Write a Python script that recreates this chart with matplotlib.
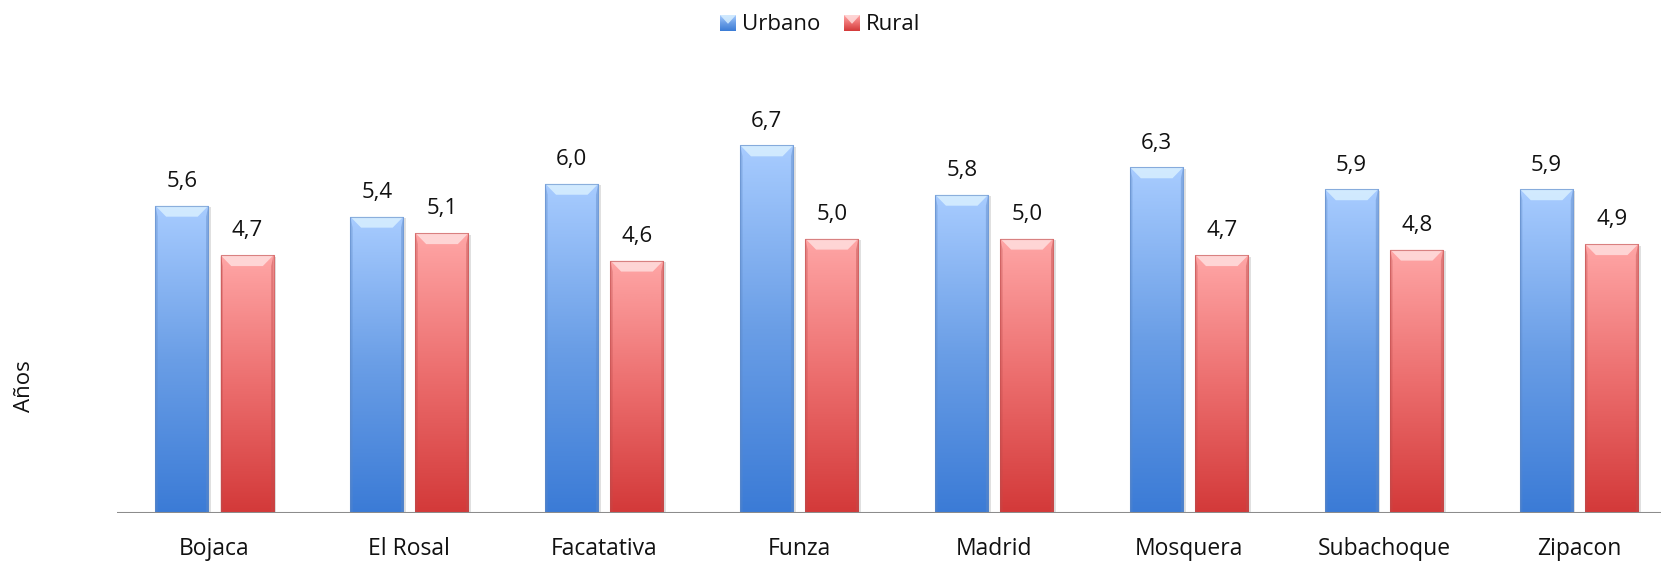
import numpy as np
import matplotlib
matplotlib.use("Agg")
import matplotlib.pyplot as plt
from matplotlib.colors import LinearSegmentedColormap
from matplotlib.patches import Polygon, Rectangle

plt.rcParams['font.family'] = ['Open Sans', 'DejaVu Sans']

categories = ["Bojaca", "El Rosal", "Facatativa", "Funza", "Madrid", "Mosquera", "Subachoque", "Zipacon"]
urbano = [5.6, 5.4, 6.0, 6.7, 5.8, 6.3, 5.9, 5.9]
rural = [4.7, 5.1, 4.6, 5.0, 5.0, 4.7, 4.8, 4.9]
series_names = ["Urbano", "Rural"]

W, H, DPI = 1661, 561, 100
fig = plt.figure(figsize=(W / DPI, H / DPI), dpi=DPI)
ax = fig.add_axes([117 / W, 48 / H, 1 - 117 / W, 439 / H])
ax.set_xlim(-0.5, 7.42)
ax.set_ylim(0, 8)

blue_cmap = LinearSegmentedColormap.from_list("b", ["#3b7bd6", "#6a9ee6", "#a8ccff"])
red_cmap = LinearSegmentedColormap.from_list("r", ["#d33939", "#ec6e6e", "#ffa6a6"])
blue_bevel = "#dcf2ff"
red_bevel = "#ffe2e2"
blue_edge = "#5d88c6"
red_edge = "#c04c4c"

bw = 0.272
off = 0.167
bev_x = 0.055
bev_y = 0.2
x = np.arange(len(categories))

grad = np.linspace(0, 1, 256).reshape(-1, 1)


def draw_bar(xc, h, cmap, bevel, edge):
    left = xc - bw / 2
    ax.add_patch(Rectangle((left + 0.012, 0), bw, h - 0.03, facecolor="#000000",
                           alpha=0.12, edgecolor="none", zorder=1))
    rect = Rectangle((left, 0), bw, h, facecolor="none", edgecolor="none", zorder=2)
    ax.add_patch(rect)
    im = ax.imshow(grad, cmap=cmap, aspect="auto", origin="lower",
                   extent=(left, left + bw, 0, h), zorder=2, interpolation="bilinear")
    im.set_clip_path(rect)
    ax.add_patch(Polygon([(left, 0), (left + 0.012, 0), (left + 0.012, h - bev_y), (left, h)],
                         closed=True, facecolor=edge, alpha=0.35, edgecolor="none", zorder=3))
    ax.add_patch(Polygon([(left + bw, 0), (left + bw - 0.012, 0), (left + bw - 0.012, h - bev_y), (left + bw, h)],
                         closed=True, facecolor=edge, alpha=0.45, edgecolor="none", zorder=3))
    ax.add_patch(Polygon([(left, h), (left + bw, h), (left + bw - bev_x, h - bev_y), (left + bev_x, h - bev_y)],
                         closed=True, facecolor=bevel, alpha=0.8, edgecolor="none", zorder=3))
    ax.add_patch(Rectangle((left, 0), bw, h, facecolor="none", edgecolor=edge,
                           lw=0.8, alpha=0.6, zorder=4))


for i in range(len(categories)):
    draw_bar(x[i] - off, urbano[i], blue_cmap, blue_bevel, blue_edge)
    draw_bar(x[i] + off, rural[i], red_cmap, red_bevel, red_edge)
    ax.text(x[i] - off, urbano[i] + 0.34, f"{urbano[i]:.1f}".replace(".", ","),
            ha="center", va="baseline", fontsize=16, color="#111111")
    ax.text(x[i] + off, rural[i] + 0.34, f"{rural[i]:.1f}".replace(".", ","),
            ha="center", va="baseline", fontsize=16, color="#111111")

for s in ax.spines.values():
    s.set_visible(False)
ax.axhline(0, color="#8c8c8c", lw=2.2, zorder=5)
ax.set_yticks([])
ax.set_xticks(x)
ax.set_xticklabels(categories, fontsize=16.5, color="#111111")
ax.tick_params(axis="x", length=0, pad=17)

fig.text(25 / W, 1 - 386 / H, "Años", rotation=90, ha="center", va="center",
         fontsize=16, color="#111111")


def legend_item(px, label, cmap, bevel):
    lax = fig.add_axes([px / W, 1 - 31 / H, 16 / W, 16 / H])
    lax.imshow(grad, cmap=cmap, aspect="auto", origin="lower", extent=(0, 1, 0, 1))
    lax.add_patch(Polygon([(0, 1), (1, 1), (0.5, 0.45)], closed=True, facecolor=bevel,
                          alpha=0.8, edgecolor="none"))
    lax.set_xlim(0, 1)
    lax.set_ylim(0, 1)
    lax.axis("off")
    fig.text((px + 22) / W, 1 - 30 / H, label, ha="left", va="baseline",
             fontsize=16, color="#111111")


legend_item(720, series_names[0], blue_cmap, blue_bevel)
legend_item(844, series_names[1], red_cmap, red_bevel)

fig.savefig("out.png", dpi=DPI)
